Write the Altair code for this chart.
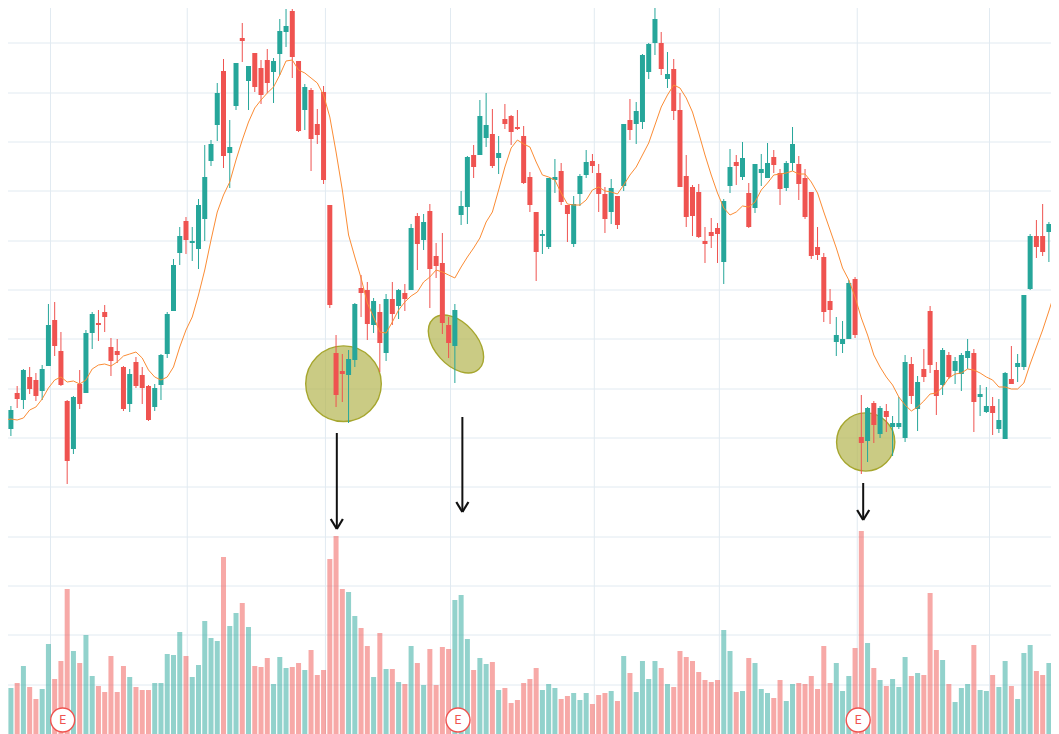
import altair as alt
import pandas as pd

body_top = [411,406,410,393,370,377,380,369,325,320,
    351,401,397,384,333,314,323,312,347,351,
    367,374,362,375,386,388,355,314,265,236,
    221,241,205,177,144,93,71,147,63,38,
    66,53,68,60,61,31,26,11,61,87,
    90,124,92,205,353,371,359,304,288,290,
    301,312,299,299,290,293,228,216,222,211,
    256,263,325,310,206,157,155,116,125,134,
    153,119,116,127,136,177,212,234,178,177,
    171,205,204,176,162,161,173,194,188,196,
    124,120,111,55,44,19,43,74,69,110,
    176,187,192,241,232,228,201,167,162,158,
    193,164,169,163,157,173,163,144,164,178,
    192,247,257,301,335,339,283,279,437,408,
    403,408,411,423,423,362,364,382,369,311,
    370,350,355,361,355,351,353,394,406,406,
    420,373,379,363,295,236,236,236,224,217]
body_bot = [427,427,429,399,400,389,396,391,366,346,
    385,461,449,404,393,333,325,317,361,355,
    409,404,386,388,420,407,385,354,311,253,
    240,243,249,219,161,125,156,153,106,41,
    81,87,95,83,72,54,32,57,131,110,
    139,135,180,305,395,374,375,360,293,324,
    325,343,353,314,306,299,290,244,240,269,
    266,323,343,346,215,207,167,155,138,166,
    158,124,132,129,183,205,252,236,247,180,
    202,214,244,194,175,166,194,219,212,225,
    186,130,124,122,72,43,69,79,111,187,
    217,216,237,244,236,234,262,186,166,177,
    227,208,173,178,165,189,188,163,184,217,
    256,255,312,310,342,344,339,335,443,441,
    425,434,417,427,427,438,396,409,377,365,
    396,385,377,371,374,358,402,397,412,413,
    429,439,384,367,367,289,247,252,232,247]
wick_high = [410,393,406,386,369,367,373,365,304,302,
    332,400,396,370,330,312,310,305,338,339,
    366,369,357,367,385,384,354,312,259,227,
    217,227,199,145,140,83,59,120,63,23,
    66,53,60,49,58,19,9,9,61,84,
    88,109,86,205,335,354,350,303,275,282,
    298,304,294,282,289,284,224,213,214,204,
    243,233,317,304,191,156,145,100,93,109,
    136,104,115,110,126,172,212,230,178,159,
    163,205,196,174,150,154,164,187,179,196,
    124,99,102,54,43,0,32,52,59,93,
    155,185,184,227,218,223,199,149,155,142,
    183,164,154,143,150,169,161,127,156,169,
    192,227,253,289,317,321,280,277,395,407,
    401,406,404,416,397,355,357,376,349,306,
    362,348,352,357,353,339,349,385,387,397,
    399,372,346,354,295,234,220,204,222,208]
wick_low = [427,437,436,408,409,394,401,400,366,356,
    386,484,454,409,393,349,341,332,376,363,
    411,412,388,404,421,411,400,358,311,265,
    254,261,269,241,166,141,168,188,110,62,
    110,92,104,93,103,75,47,78,132,130,
    171,144,184,308,407,402,423,367,317,340,
    333,372,361,325,319,311,290,270,250,308,
    278,334,358,383,225,224,178,155,147,168,
    174,129,145,130,184,212,281,254,249,193,
    205,242,247,206,178,173,212,233,224,229,
    191,140,144,129,79,55,75,88,120,187,
    227,236,238,263,248,263,284,193,185,180,
    228,213,186,178,173,205,191,171,200,219,
    259,260,322,324,356,353,339,338,474,462,
    443,438,432,456,429,442,404,431,382,373,
    415,395,379,384,391,369,432,416,413,435,
    433,439,384,382,370,290,258,256,262,253]
direction = ("TRTRTRRTTR" "RRTRTTRRRR" "RTRRRTTTTT" "RTTTTTRTTR" "TRRRTTTRRT"
             "RRRRRRTTRR" "TRTRTRTRTR" "RRRTTTRTTR" "TRRRRRRTTT" "RRTTTRRRTR"
             "TRTTTTRTRR" "RRRRRRTTRT" "RTTTRRTTRR" "RRRRTTTRRT" "RTRTTTRTRR"
             "RTRTTTRTTR" "TTRTTTRRTR")
volume = [39,62,46,51,68,47,35,45,90,55,
    73,145,83,71,99,58,48,42,78,42,
    68,57,47,44,44,51,51,80,79,102,
    78,57,69,113,96,93,177,108,121,131,
    107,68,67,76,50,77,66,67,71,64,
    84,59,64,175,198,145,142,118,106,88,
    57,101,65,65,52,50,88,71,49,85,
    49,87,85,134,139,95,64,76,70,72,
    44,46,31,34,51,55,66,44,50,46,
    35,38,41,34,41,30,39,41,43,33,
    78,61,42,73,55,73,66,50,47,83,
    77,73,62,54,52,54,104,83,42,43,
    76,71,45,41,36,54,33,50,51,50,
    58,45,88,51,71,43,58,86,203,91,
    66,54,48,55,47,77,58,61,59,141,
    84,74,50,32,46,50,89,44,43,59,
    47,73,48,35,81,89,63,59,71,56]
moving_avg = [421,420,419,420,418,410,407,399,388,380,
    377,382,381,384,380,369,365,364,366,362,
    356,354,352,358,370,377,380,377,367,347,
    330,317,295,270,240,212,195,182,160,140,
    122,108,100,93,87,75,61,60,70,73,
    78,83,95,117,152,190,235,257,278,303,
    317,332,333,322,310,302,296,292,282,277,
    270,272,275,278,267,257,248,238,222,212,
    190,167,148,140,144,147,162,175,177,180,
    193,204,205,205,200,190,187,191,192,194,
    185,175,167,155,143,125,107,95,85,88,
    98,112,133,155,175,193,208,215,212,206,
    207,202,190,183,175,174,173,171,174,174,
    182,193,212,230,248,268,280,297,318,335,
    355,367,377,385,397,405,411,407,401,394,
    393,387,378,374,373,369,370,373,377,380,
    387,387,389,389,383,364,347,330,311,291]
grid_y = [43,93,142,191,241,290,339,389,438,487,537,586,635,685]
grid_x = [8.33,30.2,52.3,72.3,95.3,115.3,137.35,158.5]
blob_x = [55.19,138.7]
blob_y = [383.7,442]
blob_size = [5715,3390]
tilted_x = [73.18]
tilted_y = [344]
arrow_x = [54.12,74.2,138.3]
arrow_top = [433,417,483]
arrow_tip = [529,512,520]
badge_x = [10.28,73.5,137.5]
badge_y = [720,720,720]

RED, TEAL = "#ef5350", "#26a69a"
n = len(volume)
xs = list(range(n))

candles = pd.DataFrame({"i": xs, "top": body_top, "bot": body_bot, "hi": wick_high, "lo": wick_low,
                        "c": [TEAL if f == "T" else RED for f in direction],
                        "vt": [734 - v for v in volume], "base": [734] * n, "ma": moving_avg})

X = alt.Scale(domain=[(8 + 1.6) / 6.253, (1051 + 1.6) / 6.253], nice=False, zero=False, padding=0)
Y = alt.Scale(domain=[734, 8], nice=False, zero=False)
x = alt.X("i:Q", scale=X, axis=None)
y = lambda f: alt.Y(f + ":Q", scale=Y, axis=None)
color = alt.Color("c:N", scale=None, legend=None)

GRID = "#e1eaf1"
hgrid = alt.Chart(pd.DataFrame({"v": grid_y})).mark_rule(color=GRID, strokeWidth=1).encode(y=y("v"))
vgrid = alt.Chart(pd.DataFrame({"i": grid_x})).mark_rule(color=GRID, strokeWidth=1).encode(x=x)

base = alt.Chart(candles)
vol = base.mark_bar(size=5, opacity=0.5, clip=True).encode(x=x, y=y("vt"), y2="base:Q", color=color)

blobs = alt.Chart(pd.DataFrame({"i": blob_x, "v": blob_y, "s": blob_size})).mark_point(
    filled=True, shape="circle", fill="#b4b550", fillOpacity=0.7, stroke="#a6a62e", strokeWidth=1.4, strokeOpacity=1, opacity=1
).encode(x=x, y=y("v"), size=alt.Size("s:Q", scale=None, legend=None))
tilted = alt.Chart(pd.DataFrame({"i": tilted_x, "v": tilted_y})).mark_point(
    filled=True, shape="M-1,0A1,0.62,0,1,1,1,0A1,0.62,0,1,1,-1,0Z", size=4624, angle=48,
    fill="#b4b550", fillOpacity=0.7, stroke="#a6a62e", strokeWidth=1.4, strokeOpacity=1, opacity=1
).encode(x=x, y=y("v"))

wicks = base.mark_rule(strokeWidth=1, clip=True).encode(x=x, y=y("hi"), y2="lo:Q", color=color)
bodies = base.mark_bar(size=5, clip=True).encode(x=x, y=y("top"), y2="bot:Q", color=color)
ma = base.mark_line(color="#fb8c35", strokeWidth=1, clip=True).encode(x=x, y=y("ma"))

shaft = alt.Chart(pd.DataFrame({"i": arrow_x, "a": arrow_top, "b": arrow_tip})).mark_rule(
    color="#111111", strokeWidth=2).encode(x=x, y=y("a"), y2="b:Q")
heads = pd.DataFrame([{"i": ax + d, "i2": ax, "a": tip - 10, "b": tip}
                      for ax, tip in zip(arrow_x, arrow_tip) for d in (-0.97, 0.97)])
head = alt.Chart(heads).mark_rule(color="#111111", strokeWidth=2.2).encode(
    x=x, x2="i2:Q", y=y("a"), y2="b:Q")

badge_df = pd.DataFrame({"i": badge_x, "v": badge_y, "t": ["E"] * 3})
badges = alt.Chart(badge_df).mark_point(
    filled=True, shape="circle", size=576, fill="white", fillOpacity=1, stroke=RED, strokeWidth=1.4, strokeOpacity=1, opacity=1
).encode(x=x, y=y("v"))
badge_text = alt.Chart(badge_df).mark_text(
    color=RED, fontSize=12, font="Roboto", align="center", baseline="middle"
).encode(x=x, y=y("v"), text="t:N")

chart = alt.layer(hgrid, vgrid, vol, blobs, tilted, wicks, bodies, ma, shaft, head, badges, badge_text).properties(
    width=1043, height=726, padding=0, autosize=alt.AutoSizeParams(type="none"), background="white"
).configure_view(stroke=None)

chart.save("out.html", embed_options={"renderer": "svg", "actions": False})
